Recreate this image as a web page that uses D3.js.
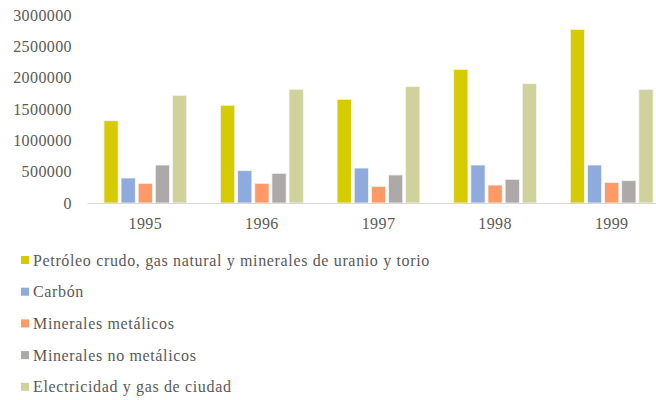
<!DOCTYPE html>
<html>
<head>
<meta charset="utf-8">
<script src="https://cdn.jsdelivr.net/npm/d3@7"></script>
<style>
  body { margin: 0; background: #fff; }
</style>
</head>
<body>
<div id="chart"></div>
<script>
// years on the x axis
const years = ["1995", "1996", "1997", "1998", "1999"];

// one array per series
const petroleo = [1313000, 1559000, 1655000, 2133000, 2771000];
const carbon = [399000, 516000, 558000, 606000, 606000];
const metalicos = [314000, 314000, 266000, 287000, 330000];
const noMetalicos = [606000, 474000, 447000, 378000, 356000];
const electricidad = [1718000, 1814000, 1856000, 1904000, 1814000];

const seriesNames = [
  "Petróleo crudo, gas natural y minerales de uranio y torio",
  "Carbón",
  "Minerales metálicos",
  "Minerales no metálicos",
  "Electricidad y gas de ciudad"
];
const seriesColors = ["#d6cb00", "#8faadc", "#ff9966", "#ada9a8", "#cfd39b"];
const yTicks = [0, 500000, 1000000, 1500000, 2000000, 2500000, 3000000];

const allSeries = [petroleo, carbon, metalicos, noMetalicos, electricidad];

const width = 656, height = 400;
const serif = "'Liberation Serif'";

let svg = d3.select("#chart").append("svg")
    .attr("width", width)
    .attr("height", height);

// scales
let x = d3.scaleBand().domain(years).range([87, 670]).paddingInner(0).paddingOuter(0);
let inner = d3.scaleBand().domain(d3.range(seriesNames.length))
    .range([14, x.bandwidth() - 14]).padding(0.17);
let y = d3.scaleLinear().domain([0, 3000000]).range([203, 15]);

// y tick labels (no axis line)
let yAxis = svg.append("g")
    .attr("transform", "translate(76,0)")
    .call(d3.axisLeft(y).tickValues(yTicks).tickFormat(d3.format("d")).tickSize(0).tickPadding(4));
yAxis.select(".domain").remove();
yAxis.selectAll("text")
    .style("font-family", serif)
    .style("font-size", "16px")
    .style("letter-spacing", "0.4px")
    .attr("fill", "#595959");

// bars
let groups = svg.selectAll(".year")
    .data(years)
    .enter().append("g")
    .attr("class", "year")
    .attr("transform", d => "translate(" + x(d) + ",0)");

groups.selectAll("rect")
    .data((d, i) => allSeries.map((s, k) => ({k: k, v: s[i]})))
    .enter().append("rect")
    .attr("x", d => inner(d.k))
    .attr("width", inner.bandwidth())
    .attr("y", d => y(d.v))
    .attr("height", d => y(0) - y(d.v))
    .attr("fill", d => seriesColors[d.k])
    .attr("stroke", "#f4f4f4")
    .attr("stroke-width", 0.8);

// x axis
let xAxis = svg.append("g")
    .attr("transform", "translate(0," + y(0) + ")")
    .call(d3.axisBottom(x).tickSize(0).tickPadding(15));
xAxis.select(".domain").attr("stroke", "#d9d9d9").attr("stroke-width", 1.2);
xAxis.selectAll("text")
    .style("font-family", serif)
    .style("font-size", "16px")
    .style("letter-spacing", "0.4px")
    .attr("fill", "#595959");

// legend
let legend = svg.selectAll(".legend")
    .data(seriesNames)
    .enter().append("g")
    .attr("class", "legend")
    .attr("transform", (d, i) => "translate(21," + (260 + i * 31.7) + ")");

legend.append("rect")
    .attr("x", 0)
    .attr("y", -4)
    .attr("width", 8)
    .attr("height", 8)
    .attr("fill", (d, i) => seriesColors[i]);

legend.append("text")
    .attr("x", 12)
    .attr("y", 0)
    .attr("dy", "0.35em")
    .style("font-family", serif)
    .style("font-size", "16px")
    .style("letter-spacing", "0.65px")
    .attr("fill", "#595959")
    .text(d => d);
</script>
</body>
</html>
